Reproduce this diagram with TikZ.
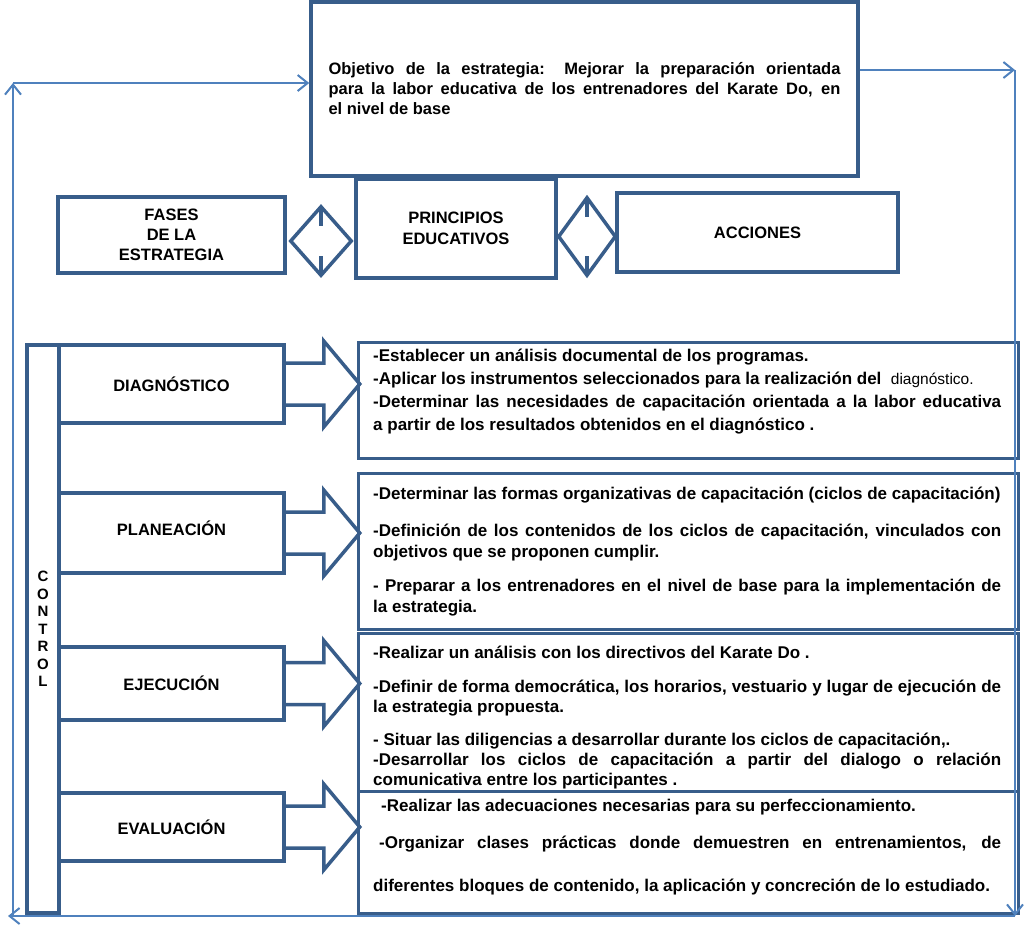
\documentclass[tikz,border=0pt]{standalone}
\usepackage{fontspec}
\setmainfont{Liberation Sans}
\definecolor{boxblue}{RGB}{56,93,138}
\definecolor{lineblue}{RGB}{79,129,189}
\usetikzlibrary{arrows.meta,positioning,shapes.geometric}

\begin{document}
\begin{tikzpicture}[
    x=1pt, y=-1pt,
    box/.style={draw=boxblue, line width=3.5pt, fill=white, inner sep=0pt, font=\bfseries\fontsize{16.5}{20}\selectfont, align=center},
    actbox/.style={draw=boxblue, line width=3pt, minimum width=660pt, anchor=north west},
    actext/.style={anchor=north west, inner sep=0pt, text width=628pt, align=justify, font=\bfseries\fontsize{17}{21}\selectfont},
    link/.style={diamond, draw=boxblue, line width=3.5pt, inner sep=0pt},
    feedback/.style={draw=lineblue, line width=2pt, -{Straight Barb[length=10pt,width=16pt]}},
    fatarrow/.style={draw=boxblue, line width=3.5pt, line join=miter}
]
    \useasboundingbox (0,0) rectangle (1031,930);

    % objetivo
    \node[box, minimum width=547pt, minimum height=174pt, text width=512pt, align=justify] (obj) at (584.5,89)
        {Objetivo de la estrategia: Mejorar  la preparación orientada\linebreak para la labor educativa  de los entrenadores del Karate  Do, en\linebreak el nivel de base};

    % fases - principios - acciones
    \node[box, minimum width=227pt, minimum height=76pt] (fases) at (171.5,235) {FASES\\DE LA\\ESTRATEGIA};
    \node[box, minimum width=200pt, minimum height=99pt, font=\bfseries\fontsize{16.5}{21}\selectfont] (princ) at (456,228.5) {PRINCIPIOS\\EDUCATIVOS};
    \node[box, minimum width=281pt, minimum height=79pt] (acc) at (757.5,232.5) {ACCIONES};
    \node[link, minimum width=62pt, minimum height=70pt] (link1) at (321,241) {};
    \node[link, minimum width=58pt, minimum height=79pt] (link2) at (587,236.5) {};
    \foreach \d in {link1,link2} {
        \draw[fatarrow] ([yshift=-2pt]\d.north) -- ++(0,20);
        \draw[fatarrow] ([yshift=2pt]\d.south) -- ++(0,-20);
    }

    % control y fases
    \node[box, minimum width=32pt, minimum height=568pt, font=\bfseries\fontsize{15}{17.5}\selectfont] (ctrl) at (43,629) {C\\O\\N\\T\\R\\O\\L};
    \node[box, minimum width=225pt, minimum height=78pt] (diag) at (171.5,384) {DIAGNÓSTICO};
    \node[box, minimum width=225pt, minimum height=80pt] (plan) at (171.5,533) {\raisebox{9pt}{PLANEACIÓN}};
    \node[box, minimum width=225pt, minimum height=73pt] (ejec) at (171.5,683.5) {EJECUCIÓN};
    \node[box, minimum width=225pt, minimum height=68pt] (eval) at (171.5,827) {EVALUACIÓN};

    \foreach \p in {diag,plan,ejec,eval}
        \draw[fatarrow] ([yshift=21pt]\p.east) -- ++(38,0) -- ++(0,-22) -- ++(36,43) -- ++(-36,43) -- ++(0,-22) -- ++(-38,0);

    % acciones por fase
    \node[actbox, minimum height=116pt] (actA) at (357,341) {};
    \node[actbox, minimum height=156pt] (actB) at (357,472) {};
    \node[actbox, minimum height=158pt] (actC) at (357,632) {};
    \node[actbox, minimum height=122pt] (actD) at (357,790) {};

    \node[actext, font=\bfseries\fontsize{17}{23}\selectfont] (txtA) at (373,349)
        {-Establecer un análisis  documental de los programas.\\
         -Aplicar los  instrumentos  seleccionados para  la realización del \ {\mdseries\fontsize{15.5}{23}\selectfont diagnóstico.}\\
         -Determinar las necesidades de  capacitación orientada a la  labor educativa\linebreak
         a partir de los resultados obtenidos en el diagnóstico .};
    \node[actext] (txtB) at (373,487)
        {-Determinar las formas organizativas de capacitación (ciclos de capacitación)\\[16pt]
         -Definición de los contenidos de los ciclos de capacitación, vinculados con\linebreak
         objetivos que se proponen cumplir.\\[13pt]
         - Preparar  a los entrenadores  en el nivel de base para la implementación de\linebreak
         la estrategia.};
    \node[actext, font=\bfseries\fontsize{17}{20}\selectfont] (txtC) at (373,646)
        {-Realizar un análisis  con los directivos del Karate  Do .\\[14pt]
         -Definir de forma democrática, los horarios, vestuario y lugar de ejecución de\linebreak
         la  estrategia propuesta.\\[13pt]
         - Situar las diligencias a desarrollar durante los ciclos de capacitación,.\\
         -Desarrollar los ciclos de capacitación a partir del dialogo o relación\linebreak
         comunicativa entre los participantes .};
    \node[actext] (txtD) at (373,799)
        {\hspace*{8pt}-Realizar las adecuaciones necesarias para su perfeccionamiento.\\[16pt]
         \hspace*{6pt}\makebox[\dimexpr\linewidth-6pt][s]{-Organizar clases prácticas donde demuestren en entrenamientos, de}\\[22pt]
         diferentes bloques de contenido, la aplicación y concreción de lo estudiado.};

    % lazo de retroalimentacion
    \coordinate (tl) at (13,83);
    \coordinate (tr) at (1015,70);
    \coordinate (br) at (1015,916);
    \coordinate (bl) at (13,916);
    \draw[feedback] (bl) -- (tl);
    \draw[feedback] (tl) -- (tl -| obj.west);
    \draw[feedback] (obj.east |- tr) -- (tr);
    \draw[feedback] (tr) -- (br);
    \draw[feedback] (br) -- ([xshift=-5pt]bl);
\end{tikzpicture}
\end{document}
